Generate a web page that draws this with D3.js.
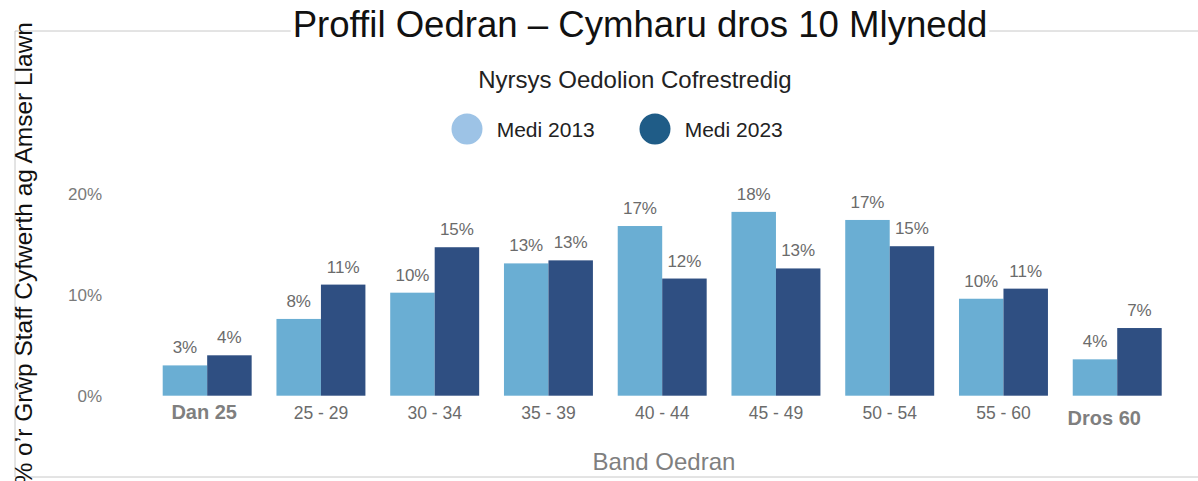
<!DOCTYPE html>
<html>
<head>
<meta charset="utf-8">
<script src="https://cdn.jsdelivr.net/npm/d3@7/dist/d3.min.js"></script>
<style>
  body { margin: 0; background: #fff; }
  text { font-family: "Liberation Sans", Arial, sans-serif; }
</style>
</head>
<body>
<div id="chart"></div>
<script>
// age bands and % of FTE staff group, Sept 2013 vs Sept 2023
const bands = ['Dan 25', '25 - 29', '30 - 34', '35 - 39', '40 - 44', '45 - 49', '50 - 54', '55 - 60', 'Dros 60'];
const series = ['Medi 2013', 'Medi 2023'];
const values2013 = [3.0, 7.6, 10.2, 13.1, 16.8, 18.2, 17.4, 9.6, 3.6];
const values2023 = [4.0, 11.0, 14.7, 13.4, 11.6, 12.6, 14.8, 10.6, 6.7];
const yTicks = [0, 10, 20];

const W = 1198, H = 481;
const barColors = ['#6aaed3', '#2f4f82'];
const legendColors = ['#9dc3e6', '#1f5c87'];
// the end bands are drawn as separate bold labels, a bit off-centre
const boldShift = { 'Dan 25': [-3, 23], 'Dros 60': [-13, 29] };

const svg = d3.select('#chart').append('svg')
    .attr('width', W)
    .attr('height', H);

// frame lines
svg.append('path')
    .attr('d', `M${W},31 H15 V477 H${W}`)
    .attr('fill', 'none')
    .attr('stroke', '#c8c8c8')
    .attr('stroke-width', 1);

const x0 = d3.scaleBand()
    .domain(bands)
    .range([162.7, 1161.7])
    .paddingInner(0.218)
    .paddingOuter(0);
const x1 = d3.scaleBand()
    .domain(series)
    .range([0, x0.bandwidth()]);
const y = d3.scaleLinear()
    .domain([0, 20])
    .range([395.7, 193.7]);

const rows = bands.map((b, i) => ({ band: b, vals: [values2013[i], values2023[i]] }));

const groups = svg.selectAll('g.grp')
    .data(rows)
    .enter()
    .append('g')
    .attr('class', 'grp')
    .attr('transform', d => `translate(${x0(d.band)},0)`);

groups.selectAll('rect')
    .data(d => d.vals.map((v, j) => ({ s: series[j], v: v, j: j })))
    .enter()
    .append('rect')
    .attr('x', d => x1(d.s))
    .attr('y', d => y(d.v))
    .attr('width', x1.bandwidth())
    .attr('height', d => y(0) - y(d.v))
    .attr('fill', d => barColors[d.j]);

groups.selectAll('text.lbl')
    .data(d => d.vals.map((v, j) => ({ s: series[j], v: v, j: j })))
    .enter()
    .append('text')
    .attr('class', 'lbl')
    .attr('x', d => x1(d.s) + x1.bandwidth() / 2)
    .attr('y', d => y(d.v) - 12)
    .attr('text-anchor', 'middle')
    .attr('font-size', 17)
    .attr('fill', '#6b6b6b')
    .text(d => Math.round(d.v) + '%');

// y axis labels only
const yAxis = svg.append('g')
    .attr('transform', 'translate(102,0)')
    .call(d3.axisLeft(y).tickValues(yTicks).tickSize(0).tickPadding(0).tickFormat(d => d + '%'));
yAxis.select('.domain').remove();
yAxis.selectAll('text')
    .attr('font-size', 17)
    .attr('font-family', '"Liberation Sans", Arial, sans-serif')
    .attr('fill', '#7a7a7a');

// x axis labels
const xAxis = svg.append('g')
    .attr('transform', 'translate(0,396)')
    .call(d3.axisBottom(x0).tickSize(0).tickPadding(0));
xAxis.select('.domain').remove();
xAxis.selectAll('text')
    .attr('font-family', '"Liberation Sans", Arial, sans-serif')
    .attr('font-size', d => boldShift[d] ? 20 : 17.5)
    .attr('font-weight', d => boldShift[d] ? 'bold' : 'normal')
    .attr('fill', d => boldShift[d] ? '#7f7f7f' : '#6b6b6b')
    .attr('dx', d => boldShift[d] ? boldShift[d][0] : 0)
    .attr('dy', d => boldShift[d] ? boldShift[d][1] : 23);

// title with white backing over the frame line
const title = svg.append('text')
    .attr('x', 640)
    .attr('y', 37)
    .attr('text-anchor', 'middle')
    .attr('font-size', 36.6)
    .attr('fill', '#111')
    .text('Proffil Oedran \u2013 Cymharu dros 10 Mlynedd');
const tb = title.node().getBBox();
svg.insert('rect', () => title.node())
    .attr('x', tb.x - 2)
    .attr('y', tb.y)
    .attr('width', tb.width + 4)
    .attr('height', tb.height)
    .attr('fill', '#fff');

svg.append('text')
    .attr('x', 635)
    .attr('y', 88)
    .attr('text-anchor', 'middle')
    .attr('font-size', 24)
    .attr('fill', '#222')
    .text('Nyrsys Oedolion Cofrestredig');

// legend
const legendX = [467, 655];
const legend = svg.selectAll('g.leg')
    .data(series)
    .enter()
    .append('g')
    .attr('class', 'leg')
    .attr('transform', (d, i) => `translate(${legendX[i]},129)`);
legend.append('circle')
    .attr('r', 15.5)
    .attr('fill', (d, i) => legendColors[i]);
legend.append('text')
    .attr('x', 29.7)
    .attr('y', 8.3)
    .attr('font-size', 21)
    .attr('fill', '#222')
    .text(d => d);

// axis titles
svg.append('text')
    .attr('transform', 'translate(32,22) rotate(-90)')
    .attr('text-anchor', 'end')
    .attr('font-size', 24.5)
    .attr('fill', '#111')
    .text('% o\u2019r Gr\u0175p Staff Cyfwerth ag Amser Llawn');

svg.append('text')
    .attr('x', 664)
    .attr('y', 470)
    .attr('text-anchor', 'middle')
    .attr('font-size', 24)
    .attr('fill', '#7f7f7f')
    .text('Band Oedran');
</script>
</body>
</html>
